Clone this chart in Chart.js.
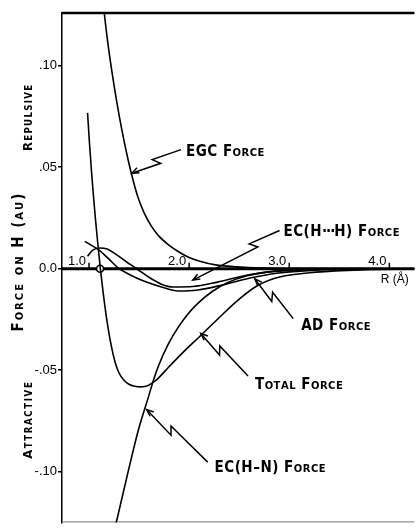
<!DOCTYPE html>
<html>
<head>
<meta charset="utf-8">
<script src="https://cdn.jsdelivr.net/npm/chart.js@4"></script>
<style>
html,body{margin:0;padding:0;background:#fff;}
canvas{display:block;}
</style>
</head>
<body>
<canvas id="c" width="420" height="528"></canvas>
<script>
// ---- data (R in Å, force on H in au) ----
const egcR = [1.1278, 1.1524, 1.1839, 1.2252, 1.2724, 1.3255, 1.3874, 1.4474, 1.4916, 1.5506, 1.6195, 1.6932, 1.7915, 1.8899, 1.9882, 2.1062, 2.2635, 2.4799, 2.7257, 3.0698, 4.25];
const egcF = [0.1396, 0.1260, 0.1128, 0.0982, 0.0836, 0.0690, 0.0543, 0.0422, 0.0348, 0.0275, 0.0212, 0.0163, 0.0119, 0.0085, 0.0058, 0.0037, 0.0019, 0.0009, 0.0003, 0.00005, 0.0];

const totR = [0.9853, 1.0049, 1.0246, 1.0442, 1.0639, 1.0836, 1.1131, 1.1426, 1.1819, 1.2212, 1.2606, 1.2999, 1.3491, 1.3982, 1.4572, 1.5162, 1.5556, 1.5949, 1.6441, 1.6932, 1.7915, 1.9390, 2.1160, 2.2832, 2.4799, 2.6765, 2.9027, 3.2665, 3.7581, 4.25];
const totF = [0.0768, 0.0616, 0.0480, 0.0358, 0.0246, 0.0144, 0.0, -0.0124, -0.0266, -0.0378, -0.0461, -0.0514, -0.0550, -0.0569, -0.0579, -0.0582, -0.0580, -0.0574, -0.0559, -0.0539, -0.0487, -0.0412, -0.0329, -0.0249, -0.0158, -0.0085, -0.0041, -0.0017, -0.0005, -0.0002];

const hnR = [1.2507, 1.2802, 1.3982, 1.4916, 1.5949, 1.6441, 1.6932, 1.7915, 1.8899, 1.9882, 2.0865, 2.2340, 2.3815, 2.5782, 2.7748, 3.0698, 3.5614, 4.25];
const hnF = [-0.1291, -0.1233, -0.0984, -0.0797, -0.0629, -0.0548, -0.0479, -0.0372, -0.0289, -0.0223, -0.0171, -0.0111, -0.0069, -0.0035, -0.0017, -0.0003, 0.0, 0.0];

const adR = [0.956, 1.025, 1.103, 1.202, 1.300, 1.398, 1.546, 1.723, 1.890, 2.087, 2.332, 2.608, 2.874, 3.267, 3.758, 4.25];
const adF = [0.0135, 0.0115, 0.0090, 0.0046, 0.0, -0.0027, -0.0061, -0.0090, -0.0110, -0.0105, -0.0080, -0.0046, -0.0022, -0.0007, -0.0002, 0.0];

const hhR = [0.985, 1.034, 1.103, 1.182, 1.270, 1.379, 1.477, 1.595, 1.723, 1.841, 2.037, 2.283, 2.529, 2.775, 3.07, 3.56, 4.25];
const hhF = [0.0061, 0.0090, 0.0102, 0.0097, 0.0071, 0.0032, 0.0, -0.0041, -0.0076, -0.0090, -0.0088, -0.0066, -0.0037, -0.0017, -0.0007, -0.0002, 0.0];

const eqR = [1.11];
const eqF = [0.0];

const xTicks = [1, 2, 3, 4];
const xTickLabels = ['1.0', '2.0', '3.0', '4.0'];
const yTicks = [-0.10, -0.05, 0, 0.05, 0.10];
const yTickLabels = ['-.10', '-.05', '0.0', '.05', '.10'];

// annotation labels with leader arrows (data coordinates)
const notes = [
  {text: 'EGC Force',        at: [1.9685, 0.0553], from: [1.919, 0.0587], to: [1.428, 0.0470], zig: 0.5},
  {text: 'EC(H\u00B7\u00B7\u00B7H) Force', at: [2.942, 0.0163], from: [2.903, 0.0188], to: [2.037, -0.0056], zig: 0.3},
  {text: 'AD Force',         at: [3.119, -0.0300], from: [3.040, -0.0246], to: [2.657, -0.0051], zig: 0.55},
  {text: 'Total Force',      at: [2.657, -0.0592], from: [2.588, -0.0529], to: [2.116, -0.0319], zig: 0.6},
  {text: 'EC(H\u2013N) Force', at: [2.254, -0.1001], from: [2.185, -0.0953], to: [1.575, -0.0694], zig: 0.6}
];

const FONT = '"Liberation Sans Narrow", "DejaVu Sans Condensed", "Arial Narrow", sans-serif';
const TFONT = '"Liberation Sans", "DejaVu Sans", Arial, sans-serif';

function pts(xs, ys) { return xs.map((x, i) => ({x: x, y: ys[i]})); }
function curve(xs, ys) {
  return {data: pts(xs, ys), showLine: true, borderColor: '#000', borderWidth: 1.6,
          pointRadius: 0, cubicInterpolationMode: 'monotone', fill: false};
}

function drawSC(ctx, text, x, y, size, align, ls, ratio, weight) {
  const parts = [...text].map(ch => {
    const low = ch !== ch.toUpperCase();
    const s = low ? size * ratio : size;
    ctx.font = weight + ' ' + s + 'px ' + FONT;
    const c = low ? ch.toUpperCase() : ch;
    const w = (ch === '\u00B7') ? ctx.measureText(c).width * 0.7 : ctx.measureText(c).width;
    return {c: c, s: s, w: w};
  });
  const total = parts.reduce((a, p) => a + p.w + ls, 0) - ls;
  let cx = align === 'center' ? x - total / 2 : (align === 'right' ? x - total : x);
  ctx.textAlign = 'left';
  ctx.textBaseline = 'alphabetic';
  for (const p of parts) {
    ctx.font = weight + ' ' + p.s + 'px ' + FONT;
    ctx.fillText(p.c, cx, y);
    cx += p.w + ls;
  }
}

function leader(ctx, sx, sy, tx, ty, f) {
  const dx = tx - sx, dy = ty - sy, L = Math.hypot(dx, dy);
  const ux = dx / L, uy = dy / L, nx = -uy, ny = ux;
  const mx = sx + dx * f, my = sy + dy * f;
  ctx.beginPath();
  ctx.moveTo(sx, sy);
  ctx.lineTo(mx + ux * 3 + nx * 3.5, my + uy * 3 + ny * 3.5);
  ctx.lineTo(mx - ux * 3 - nx * 3.5, my - uy * 3 - ny * 3.5);
  ctx.lineTo(tx, ty);
  ctx.stroke();
  const ah = 7, aw = 0.4;
  ctx.beginPath();
  ctx.moveTo(tx - ux * ah + nx * ah * aw, ty - uy * ah + ny * ah * aw);
  ctx.lineTo(tx, ty);
  ctx.lineTo(tx - ux * ah - nx * ah * aw, ty - uy * ah - ny * ah * aw);
  ctx.stroke();
}

const decor = {
  id: 'decor',
  beforeDatasetsDraw(chart) {
    const ctx = chart.ctx, a = chart.chartArea, xs = chart.scales.x, ys = chart.scales.y;
    const y0 = ys.getPixelForValue(0);
    ctx.save();
    ctx.strokeStyle = '#000';
    ctx.lineWidth = 3;
    ctx.beginPath(); ctx.moveTo(a.left, y0); ctx.lineTo(a.right, y0); ctx.stroke();
    ctx.lineWidth = 2.5;
    ctx.beginPath(); ctx.moveTo(a.left, a.top); ctx.lineTo(a.right, a.top); ctx.stroke();
    ctx.strokeStyle = '#777'; ctx.lineWidth = 1;
    ctx.beginPath(); ctx.moveTo(a.left, a.bottom - 0.5); ctx.lineTo(a.right, a.bottom - 0.5); ctx.stroke();
    // x ticks and labels above the zero line
    ctx.strokeStyle = '#000'; ctx.fillStyle = '#000'; ctx.lineWidth = 1.5;
    ctx.font = '13px ' + TFONT; ctx.textAlign = 'right'; ctx.textBaseline = 'alphabetic';
    xTicks.forEach((v, i) => {
      const px = xs.getPixelForValue(v);
      ctx.beginPath(); ctx.moveTo(px, y0 - 6); ctx.lineTo(px, y0); ctx.stroke();
      ctx.fillText(xTickLabels[i], px - 3, y0 - 4);
    });
    ctx.textAlign = 'left';
    ctx.font = '12px ' + TFONT;
    ctx.fillText('R (\u00C5)', xs.getPixelForValue(3.915), y0 + 14);
    ctx.restore();
  },
  afterDatasetsDraw(chart) {
    const ctx = chart.ctx, xs = chart.scales.x, ys = chart.scales.y;
    ctx.save();
    ctx.fillStyle = '#000'; ctx.strokeStyle = '#000'; ctx.lineWidth = 1.5;
    notes.forEach(n => {
      drawSC(ctx, n.text, xs.getPixelForValue(n.at[0]), ys.getPixelForValue(n.at[1]), 15, 'left', 0.5, 0.74, 'bold');
      leader(ctx, xs.getPixelForValue(n.from[0]), ys.getPixelForValue(n.from[1]),
             xs.getPixelForValue(n.to[0]), ys.getPixelForValue(n.to[1]), n.zig);
    });
    // rotated axis titles
    const titles = [
      {t: 'Force on H (au)', x: 23, v: 0.003, size: 15, ls: 2},
      {t: 'Repulsive', x: 32, v: 0.0743, size: 13, ls: 1.3},
      {t: 'Attractive', x: 32, v: -0.0748, size: 13, ls: 1.6}
    ];
    titles.forEach(o => {
      ctx.save();
      ctx.translate(o.x, ys.getPixelForValue(o.v));
      ctx.rotate(-Math.PI / 2);
      drawSC(ctx, o.t, 0, 0, o.size, 'center', o.ls, 0.74, 'bold');
      ctx.restore();
    });
    ctx.restore();
  }
};

new Chart(document.getElementById('c'), {
  type: 'scatter',
  data: {
    datasets: [
      curve(egcR, egcF),
      curve(totR, totF),
      curve(hnR, hnF),
      curve(adR, adF),
      curve(hhR, hhF),
      {data: pts(eqR, eqF), showLine: false, pointRadius: 3.5, pointBackgroundColor: '#fff',
       pointBorderColor: '#000', pointBorderWidth: 1.6}
    ]
  },
  options: {
    responsive: false, animation: false, devicePixelRatio: 1,
    layout: {padding: {top: 13, left: 0, right: 0, bottom: 0}},
    plugins: {legend: {display: false}, tooltip: {enabled: false}},
    scales: {
      x: {type: 'linear', min: 0.73, max: 4.25, display: false},
      y: {
        type: 'linear', min: -0.125, max: 0.126,
        afterBuildTicks: s => { s.ticks = yTicks.map(v => ({value: v})); },
        afterFit: s => { s.width = 62; s.paddingTop = 0; s.paddingBottom = 0; },
        ticks: {callback: (v, i) => yTickLabels[i], color: '#000', padding: 1,
                font: {family: TFONT, size: 13}},
        grid: {drawOnChartArea: false, drawTicks: true, tickLength: 4, color: '#000', lineWidth: 1.5},
        border: {display: true, color: '#000', width: 1.5}
      }
    }
  },
  plugins: [decor]
});
</script>
</body>
</html>
